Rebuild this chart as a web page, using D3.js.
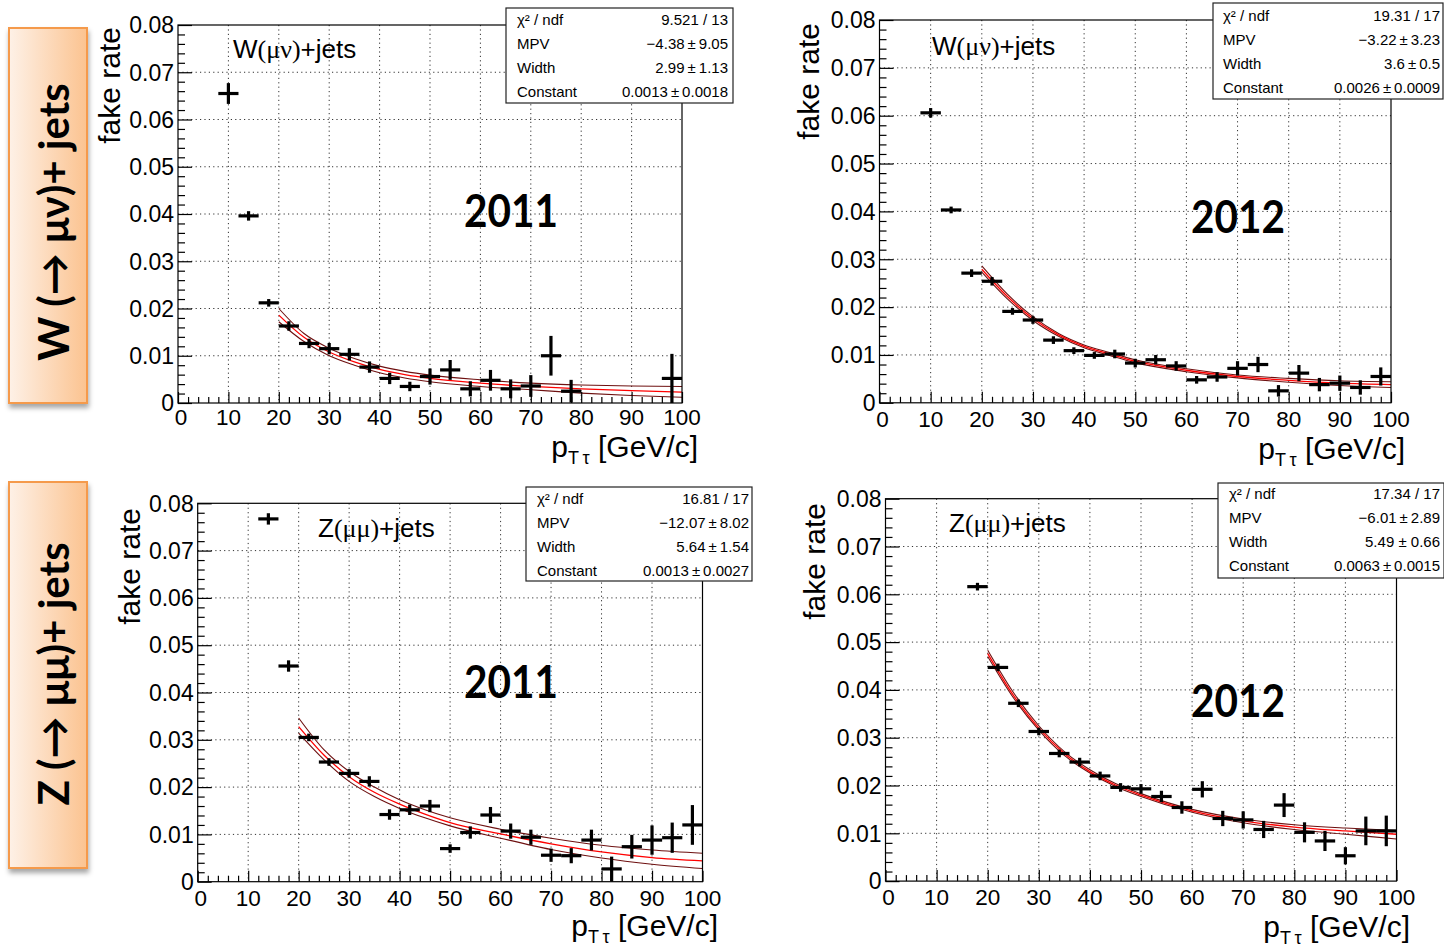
<!DOCTYPE html>
<html>
<head>
<meta charset="utf-8">
<script src="https://cdn.jsdelivr.net/npm/d3@7"></script>
<style>
  html, body { margin: 0; padding: 0; background: #fff; }
  svg { display: block; }
</style>
</head>
<body>
<svg id="fig" width="1444" height="947"></svg>
<script>
// ---- tau fake rate vs pT, 4 GeV/c bins ----
const ptBins = [10,14,18,22,26,30,34,38,42,46,50,54,58,62,66,70,74,78,82,86,90,94,98];
const binHalfWidth = 2;

// W(mu nu)+jets, 2011
const wmunu2011    = [0.0655,0.0396,0.0212,0.0163,0.0126,0.0115,0.0103,0.0076,0.0052,0.0035,0.0056,0.0070,0.0030,0.0048,0.0030,0.0036,0.0100,0.0025,null,null,null,null,0.0052];
const wmunu2011Err = [0.0022,0.0010,0.0008,0.0010,0.0010,0.0012,0.0013,0.0012,0.0012,0.0010,0.0017,0.0021,0.0016,0.0022,0.0020,0.0023,0.0042,0.0024,null,null,null,null,0.0052];
// W(mu nu)+jets, 2012
const wmunu2012    = [0.0606,0.0403,0.0271,0.0254,0.0191,0.0173,0.0131,0.0109,0.0099,0.0102,0.0083,0.0090,0.0077,0.0048,0.0054,0.0072,0.0080,0.0025,0.0062,0.0038,0.0041,0.0032,0.0055];
const wmunu2012Err = [0.0010,0.0007,0.0008,0.0009,0.0007,0.0008,0.0008,0.0007,0.0007,0.0009,0.0009,0.0010,0.0010,0.0008,0.0010,0.0015,0.0016,0.0012,0.0017,0.0014,0.0016,0.0015,0.0019];
// Z(mu mu)+jets, 2011
const zmumu2011    = [null,0.0767,0.0456,0.0305,0.0253,0.0229,0.0212,0.0142,0.0152,0.0160,0.0070,0.0104,0.0141,0.0107,0.0094,0.0056,0.0055,0.0088,0.0027,0.0074,0.0088,0.0093,0.0120];
const zmumu2011Err = [null,0.0012,0.0012,0.0008,0.0008,0.0009,0.0011,0.0011,0.0011,0.0013,0.0009,0.0013,0.0017,0.0016,0.0016,0.0014,0.0016,0.0022,0.0026,0.0025,0.0031,0.0032,0.0042];
// Z(mu mu)+jets, 2012
const zmumu2012    = [null,null,0.0616,0.0447,0.0372,0.0313,0.0267,0.0249,0.0220,0.0196,0.0193,0.0177,0.0154,0.0192,0.0131,0.0128,0.0108,0.0159,0.0102,0.0084,0.0053,0.0105,0.0105];
const zmumu2012Err = [null,null,0.0008,0.0008,0.0008,0.0008,0.0008,0.0009,0.0009,0.0009,0.0010,0.0012,0.0013,0.0017,0.0016,0.0018,0.0018,0.0025,0.0021,0.0021,0.0018,0.0030,0.0032];

// Landau fit (red) and its error band (dark red), sampled along pT
const fitPt = [20,25,30,35,40,45,50,60,70,80,90,100];
const wmunu2011Fit     = [0.0186,0.0139,0.0108,0.0087,0.0071,0.0060,0.0052,0.0042,0.0035,0.0030,0.0026,0.0023];
const wmunu2011FitUp   = [0.0200,0.0147,0.0116,0.0094,0.0078,0.0067,0.0059,0.0049,0.0042,0.0038,0.0036,0.0035];
const wmunu2011FitDown = [0.0172,0.0130,0.0100,0.0080,0.0064,0.0053,0.0045,0.0035,0.0028,0.0021,0.0016,0.0012];
const wmunu2012Fit     = [0.0279,0.0222,0.0176,0.0142,0.0118,0.0102,0.0087,0.0068,0.0055,0.0047,0.0041,0.0038];
const wmunu2012FitUp   = [0.0286,0.0227,0.0180,0.0145,0.0121,0.0105,0.0090,0.0071,0.0058,0.0051,0.0046,0.0044];
const wmunu2012FitDown = [0.0273,0.0217,0.0172,0.0139,0.0115,0.0099,0.0084,0.0065,0.0052,0.0043,0.0036,0.0032];
const zmumu2011Fit     = [0.0328,0.0268,0.0222,0.0189,0.0164,0.0143,0.0125,0.0101,0.0080,0.0063,0.0051,0.0044];
const zmumu2011FitUp   = [0.0346,0.0279,0.0233,0.0200,0.0173,0.0152,0.0135,0.0111,0.0092,0.0077,0.0067,0.0060];
const zmumu2011FitDown = [0.0314,0.0258,0.0212,0.0180,0.0155,0.0135,0.0118,0.0092,0.0068,0.0050,0.0037,0.0028];
const zmumu2012Fit     = [0.0476,0.0389,0.0320,0.0267,0.0229,0.0201,0.0180,0.0147,0.0126,0.0113,0.0105,0.0098];
const zmumu2012FitUp   = [0.0483,0.0395,0.0325,0.0271,0.0233,0.0204,0.0183,0.0150,0.0130,0.0118,0.0111,0.0106];
const zmumu2012FitDown = [0.0470,0.0384,0.0316,0.0263,0.0226,0.0198,0.0177,0.0144,0.0122,0.0108,0.0098,0.0088];

// fit statistics boxes
const statNames = ["\u03C7\u00B2 / ndf", "MPV", "Width", "Constant"];
const wmunu2011Stats = ["9.521 / 13", "\u22124.38\u2009\u00B1\u20099.05", "2.99\u2009\u00B1\u20091.13", "0.0013\u2009\u00B1\u20090.0018"];
const wmunu2012Stats = ["19.31 / 17", "\u22123.22\u2009\u00B1\u20093.23", "3.6\u2009\u00B1\u20090.5", "0.0026\u2009\u00B1\u20090.0009"];
const zmumu2011Stats = ["16.81 / 17", "\u221212.07\u2009\u00B1\u20098.02", "5.64\u2009\u00B1\u20091.54", "0.0013\u2009\u00B1\u20090.0027"];
const zmumu2012Stats = ["17.34 / 17", "\u22126.01\u2009\u00B1\u20092.89", "5.49 \u00B1 0.66", "0.0063\u2009\u00B1\u20090.0015"];

// axes
const xTicks = [0,10,20,30,40,50,60,70,80,90,100];
const yTicks = [0,0.01,0.02,0.03,0.04,0.05,0.06,0.07,0.08];
const yTickLabels = ["0","0.01","0.02","0.03","0.04","0.05","0.06","0.07","0.08"];
const xTitle = ["p", "T\u2009\u03C4", " [GeV/c]"];
const yTitle = "fake rate";

// row labels and per-panel tags
const rowLabels = ["W (\u2192 \u03BC\u03BD)+ jets", "Z (\u2192 \u03BC\u03BC)+ jets"];
const sampleNames = [["W", "(\u03BC\u03BD)", "+jets"], ["Z", "(\u03BC\u03BC)", "+jets"]];
const years = ["2011", "2012"];

const svg = d3.select("#fig");
const SANS = "'Liberation Sans', Arial, Helvetica, sans-serif";
const SERIF = "'Liberation Serif', 'Times New Roman', serif";
const BOLD = "Lato, 'Open Sans', sans-serif";

const defs = svg.append("defs");
const grad = defs.append("linearGradient").attr("id", "rowFill")
  .attr("x1", "0%").attr("x2", "100%").attr("y1", "0%").attr("y2", "0%");
grad.append("stop").attr("offset", "0%").attr("stop-color", "#fef1e7");
grad.append("stop").attr("offset", "100%").attr("stop-color", "#fbc390");
const shadow = defs.append("filter").attr("id", "rowShadow")
  .attr("x", "-20%").attr("y", "-10%").attr("width", "150%").attr("height", "120%");
shadow.append("feDropShadow").attr("dx", 1).attr("dy", 4).attr("stdDeviation", 2.5)
  .attr("flood-color", "#000").attr("flood-opacity", 0.35);

// row header boxes
const rowBoxes = [
  { x: 9, y: 28, w: 78, h: 375, tx: 69, ty: 222 },
  { x: 9, y: 482, w: 78, h: 386, tx: 69, ty: 674 }
];
rowBoxes.forEach((b, i) => {
  svg.append("rect").attr("x", b.x).attr("y", b.y).attr("width", b.w).attr("height", b.h)
    .attr("fill", "url(#rowFill)").attr("stroke", "#f59a4c").attr("stroke-width", 2)
    .attr("filter", "url(#rowShadow)");
  svg.append("text")
    .attr("transform", `translate(${b.tx},${b.ty}) rotate(-90)`)
    .attr("text-anchor", "middle")
    .attr("font-family", BOLD).attr("font-weight", 700).attr("font-size", 42)
    .attr("fill", "#000")
    .text(rowLabels[i]);
});

const panels = [
  { values: wmunu2011, errors: wmunu2011Err, fit: wmunu2011Fit, fitUp: wmunu2011FitUp, fitDown: wmunu2011FitDown,
    stats: wmunu2011Stats, sample: sampleNames[0], year: years[0],
    frame: { x0: 178, x1: 682, y0: 25, y1: 403 }, xLabDy: 22,
    box: { x: 506, y: 8, w: 227, h: 95, rows: [25, 49, 73, 97], left: 517, right: 728 },
    legend: { x: 233, y: 58 }, yearPos: { x: 464, y: 227 },
    xTitlePos: { x: 698, y: 457 }, yTitlePos: { x: 120, y: 27 } },
  { values: wmunu2012, errors: wmunu2012Err, fit: wmunu2012Fit, fitUp: wmunu2012FitUp, fitDown: wmunu2012FitDown,
    stats: wmunu2012Stats, sample: sampleNames[0], year: years[1],
    frame: { x0: 879.5, x1: 1391, y0: 20, y1: 402.8 }, xLabDy: 24,
    box: { x: 1213, y: 3, w: 230, h: 96, rows: [21, 45, 69, 93], left: 1223, right: 1440 },
    legend: { x: 932, y: 55 }, yearPos: { x: 1191, y: 233 },
    xTitlePos: { x: 1405, y: 459 }, yTitlePos: { x: 819, y: 23 } },
  { values: zmumu2011, errors: zmumu2011Err, fit: zmumu2011Fit, fitUp: zmumu2011FitUp, fitDown: zmumu2011FitDown,
    stats: zmumu2011Stats, sample: sampleNames[1], year: years[0],
    frame: { x0: 197.7, x1: 702.5, y0: 503.3, y1: 881.7 }, xLabDy: 24,
    box: { x: 526, y: 487, w: 226, h: 94, rows: [504, 528, 552, 576], left: 537, right: 749 },
    legend: { x: 318, y: 537 }, yearPos: { x: 464, y: 698 },
    xTitlePos: { x: 718, y: 936 }, yTitlePos: { x: 140, y: 508 } },
  { values: zmumu2012, errors: zmumu2012Err, fit: zmumu2012Fit, fitUp: zmumu2012FitUp, fitDown: zmumu2012FitDown,
    stats: zmumu2012Stats, sample: sampleNames[1], year: years[1],
    frame: { x0: 885.5, x1: 1396.5, y0: 498.7, y1: 881.1 }, xLabDy: 24,
    box: { x: 1218, y: 483, w: 226, h: 95, rows: [499, 523, 547, 571], left: 1229, right: 1440 },
    legend: { x: 949, y: 532 }, yearPos: { x: 1191, y: 717 },
    xTitlePos: { x: 1410, y: 937 }, yTitlePos: { x: 825, y: 503 } }
];

function drawPanel(p) {
  const f = p.frame;
  const x = d3.scaleLinear().domain([0, 100]).range([f.x0, f.x1]);
  const y = d3.scaleLinear().domain([0, 0.08]).range([f.y1, f.y0]);
  const g = svg.append("g");

  // dotted grid at the major ticks
  const grid = g.append("g").attr("stroke", "#333").attr("stroke-width", 1)
    .attr("stroke-dasharray", "1.2,3.2");
  xTicks.slice(1, -1).forEach(v => grid.append("line")
    .attr("x1", x(v)).attr("x2", x(v)).attr("y1", f.y0).attr("y2", f.y1));
  yTicks.slice(1, -1).forEach(v => grid.append("line")
    .attr("x1", f.x0).attr("x2", f.x1).attr("y1", y(v)).attr("y2", y(v)));

  // fit curve and error band
  const line = d3.line().x(d => x(d[0])).y(d => y(d[1])).curve(d3.curveMonotoneX);
  [[p.fitUp, "#6e1010", 1.1], [p.fitDown, "#6e1010", 1.1], [p.fit, "#ff0000", 1.3]].forEach(([vals, col, w]) => {
    g.append("path").datum(fitPt.map((t, i) => [t, vals[i]]))
      .attr("d", line).attr("fill", "none").attr("stroke", col).attr("stroke-width", w);
  });

  // data points with error bars
  const pts = ptBins.map((t, i) => ({ t, v: p.values[i], e: p.errors[i] })).filter(d => d.v !== null);
  const marks = g.append("g").attr("stroke", "#000").attr("stroke-width", 3.2);
  pts.forEach(d => {
    marks.append("line")
      .attr("x1", x(d.t - binHalfWidth)).attr("x2", x(d.t + binHalfWidth))
      .attr("y1", y(d.v)).attr("y2", y(d.v));
    marks.append("line")
      .attr("x1", x(d.t)).attr("x2", x(d.t))
      .attr("y1", y(Math.min(0.08, d.v + d.e))).attr("y2", y(Math.max(0, d.v - d.e)));
  });

  // frame
  g.append("rect").attr("x", f.x0).attr("y", f.y0)
    .attr("width", f.x1 - f.x0).attr("height", f.y1 - f.y0)
    .attr("fill", "none").attr("stroke", "#000").attr("stroke-width", 1.2);

  // x axis: ticks point into the frame
  const xAxis = d3.axisBottom(x).tickValues(d3.range(0, 101, 2))
    .tickSize(0).tickFormat("");
  const xa = g.append("g").attr("transform", `translate(0,${f.y1})`).call(xAxis);
  xa.select(".domain").remove();
  xa.selectAll(".tick line").attr("stroke", "#000").attr("stroke-width", 1.2)
    .attr("y2", d => (d % 10 === 0 ? -11 : -6));
  xTicks.forEach(v => g.append("text")
    .attr("x", x(v) + (v === 0 ? 3 : 0)).attr("y", f.y1 + p.xLabDy)
    .attr("text-anchor", "middle").attr("font-family", SANS).attr("font-size", 22.5)
    .text(v));

  // y axis
  const yAxis = d3.axisLeft(y).tickValues(d3.range(0, 41).map(k => k * 0.002))
    .tickSize(0).tickFormat("");
  const ya = g.append("g").attr("transform", `translate(${f.x0},0)`).call(yAxis);
  ya.select(".domain").remove();
  ya.selectAll(".tick line").attr("stroke", "#000").attr("stroke-width", 1.2)
    .attr("x2", (d, i) => (i % 5 === 0 ? 14 : 7));
  yTicks.forEach((v, i) => g.append("text")
    .attr("x", f.x0 - 4).attr("y", y(v)).attr("dy", "0.36em")
    .attr("text-anchor", "end").attr("font-family", SANS).attr("font-size", 23)
    .text(yTickLabels[i]));

  // axis titles
  const xt = g.append("text").attr("x", p.xTitlePos.x).attr("y", p.xTitlePos.y)
    .attr("text-anchor", "end").attr("font-family", SANS).attr("font-size", 30);
  xt.append("tspan").text(xTitle[0]);
  xt.append("tspan").attr("font-size", 18).attr("dy", 7).text(xTitle[1]);
  xt.append("tspan").attr("dy", -7).text(xTitle[2]);
  g.append("text")
    .attr("transform", `translate(${p.yTitlePos.x},${p.yTitlePos.y}) rotate(-90)`)
    .attr("text-anchor", "end").attr("font-family", SANS).attr("font-size", 30)
    .text(yTitle);

  // sample tag
  const lg = g.append("text").attr("x", p.legend.x).attr("y", p.legend.y)
    .attr("font-family", SANS).attr("font-size", 26);
  lg.append("tspan").text(p.sample[0]);
  lg.append("tspan").attr("font-family", SERIF).text(p.sample[1]);
  lg.append("tspan").text(p.sample[2]);

  // year
  g.append("text").attr("x", p.yearPos.x).attr("y", p.yearPos.y)
    .attr("font-family", BOLD).attr("font-weight", 700).attr("font-size", 46)
    .attr("textLength", 94).attr("lengthAdjust", "spacingAndGlyphs")
    .text(p.year);

  // fit statistics box
  const b = p.box;
  g.append("rect").attr("x", b.x).attr("y", b.y).attr("width", b.w).attr("height", b.h)
    .attr("fill", "#fff").attr("stroke", "#222").attr("stroke-width", 1.2);
  statNames.forEach((n, i) => {
    g.append("text").attr("x", b.left).attr("y", b.rows[i])
      .attr("font-family", SANS).attr("font-size", 15).text(n);
    g.append("text").attr("x", b.right).attr("y", b.rows[i])
      .attr("text-anchor", "end").attr("font-family", SANS).attr("font-size", 15).text(p.stats[i]);
  });
}

panels.forEach(drawPanel);
</script>
</body>
</html>
